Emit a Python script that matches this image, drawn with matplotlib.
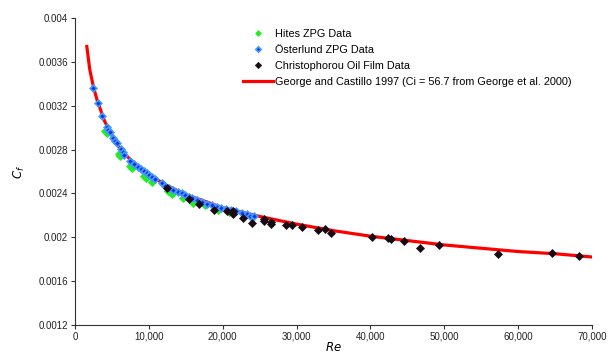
import matplotlib
matplotlib.use("Agg")
import matplotlib.pyplot as plt
from matplotlib.ticker import FuncFormatter, MultipleLocator

plt.rcParams["font.family"] = ["Liberation Sans", "DejaVu Sans"]

# Hites ZPG data
hites_re = [4065, 4300, 6000, 6150, 7450, 7650, 9300, 9600, 10390, 12600,
            13100, 14680, 16030, 17600, 19420, 20800]
hites_cf = [0.002971, 0.002950, 0.002760, 0.002745, 0.002650, 0.002635,
            0.002555, 0.002540, 0.002505, 0.002425, 0.002399, 0.002354,
            0.002314, 0.002290, 0.002247, 0.002230]

# Österlund ZPG data
ost_re = [2480, 3070, 3660, 4290, 4520, 4740, 5190, 5430, 5650, 6190, 6450,
          6680, 7400, 8040, 8500, 8900, 9300, 9700, 10000, 10390, 10800,
          11750, 12200, 12700, 13300, 14000, 14460, 14900, 15400, 15900,
          16490, 17170, 17850, 18520, 19200, 19800, 20500, 21100, 21800,
          22590, 23260, 23710, 24200]
ost_cf = [0.003358, 0.003227, 0.003105, 0.003008, 0.002975, 0.002956,
          0.002902, 0.002880, 0.002856, 0.002801, 0.002775, 0.002749,
          0.002700, 0.002664, 0.002640, 0.002622, 0.002600, 0.002585,
          0.002570, 0.002551, 0.002535, 0.002491, 0.002466, 0.002448,
          0.002430, 0.002414, 0.002400, 0.002384, 0.002370, 0.002355,
          0.002338, 0.002323, 0.002308, 0.002293, 0.002277, 0.002268,
          0.002258, 0.002250, 0.002238, 0.002217, 0.002208, 0.002192,
          0.002190]

# Christophorou oil film data
chr_re = [12420, 15490, 16840, 18880, 20550, 21450, 21450, 22720, 24030,
          25650, 25650, 26510, 26510, 28590, 29360, 30720, 32880, 33880,
          34640, 40200, 42320, 42820, 44490, 46750, 49230, 57270, 64590,
          68290]
chr_cf = [0.002454, 0.002347, 0.002308, 0.002253, 0.002240, 0.002240,
          0.002208, 0.002177, 0.002131, 0.002171, 0.002147, 0.002140,
          0.002120, 0.002110, 0.002116, 0.002090, 0.002064, 0.002074,
          0.002040, 0.002003, 0.001998, 0.001982, 0.001967, 0.001903,
          0.001928, 0.001852, 0.001857, 0.001833]

# George and Castillo 1997 curve
gc_re = [1600, 2000, 2500, 3000, 4000, 5000, 6000, 7000, 8500, 10000, 12500,
         15000, 17500, 20000, 25000, 30000, 35000, 40000, 45000, 50000,
         55000, 60000, 65000, 70000]
gc_cf = [0.00374, 0.00353, 0.00337, 0.00325, 0.00306, 0.00293, 0.00282,
         0.00274, 0.00265, 0.00257, 0.00247, 0.00239, 0.00233, 0.00227,
         0.00219, 0.00212, 0.00206, 0.00201, 0.00197, 0.00193, 0.00190,
         0.00187, 0.00185, 0.00182]

fig = plt.figure(figsize=(6.08, 3.56), dpi=100)
ax = fig.add_axes([75 / 608, 1 - 325 / 356, 517 / 608, 307 / 356])

ax.plot(gc_re, gc_cf, color="#ff0000", lw=2.3, zorder=2,
        label="George and Castillo 1997 (Ci = 56.7 from George et al. 2000)")
ax.plot(hites_re, hites_cf, ls="none", marker="D", ms=3.6, color="#22ee22",
        mec="#22ee22", mew=0.6, zorder=3, label="Hites ZPG Data")
ax.plot(ost_re, ost_cf, ls="none", marker="D", ms=3.4, mfc="#1133dd",
        mec="#4499ff", mew=1.2, zorder=4, label="Österlund ZPG Data")
ax.plot(chr_re, chr_cf, ls="none", marker="D", ms=4.0, color="#1a0a14",
        mew=0.5, zorder=5, label="Christophorou Oil Film Data")

ax.set_xlim(0, 70000)
ax.set_ylim(0.0012, 0.004)
ax.xaxis.set_major_locator(MultipleLocator(10000))
ax.yaxis.set_major_locator(MultipleLocator(0.0004))
ax.xaxis.set_major_formatter(FuncFormatter(lambda v, p: f"{int(v):,}"))
ax.yaxis.set_major_formatter(FuncFormatter(lambda v, p: f"{v:.4f}".rstrip("0")))

for s in ["top", "right"]:
    ax.spines[s].set_visible(False)
for s in ["left", "bottom"]:
    ax.spines[s].set_color("#333333")
    ax.spines[s].set_linewidth(0.8)
ax.tick_params(direction="out", length=3, width=0.8, color="#333333",
               labelsize=7, labelcolor="#222222", pad=2)

ax.set_ylabel("$C_f$", fontsize=8.5, labelpad=8)
ax.set_xlabel("$Re$", fontsize=8.5, labelpad=-1)

handles, labels = ax.get_legend_handles_labels()
order = [1, 2, 3, 0]
ax.legend([handles[i] for i in order], [labels[i] for i in order],
          loc="upper left", bbox_to_anchor=(243 / 608, 1 - 29 / 356),
          bbox_transform=fig.transFigure, frameon=False, fontsize=7.8,
          handlelength=2.8, handletextpad=0.15, labelspacing=0.55,
          markerscale=0.8, borderpad=0, borderaxespad=0)

fig.savefig("out.png", dpi=100)
